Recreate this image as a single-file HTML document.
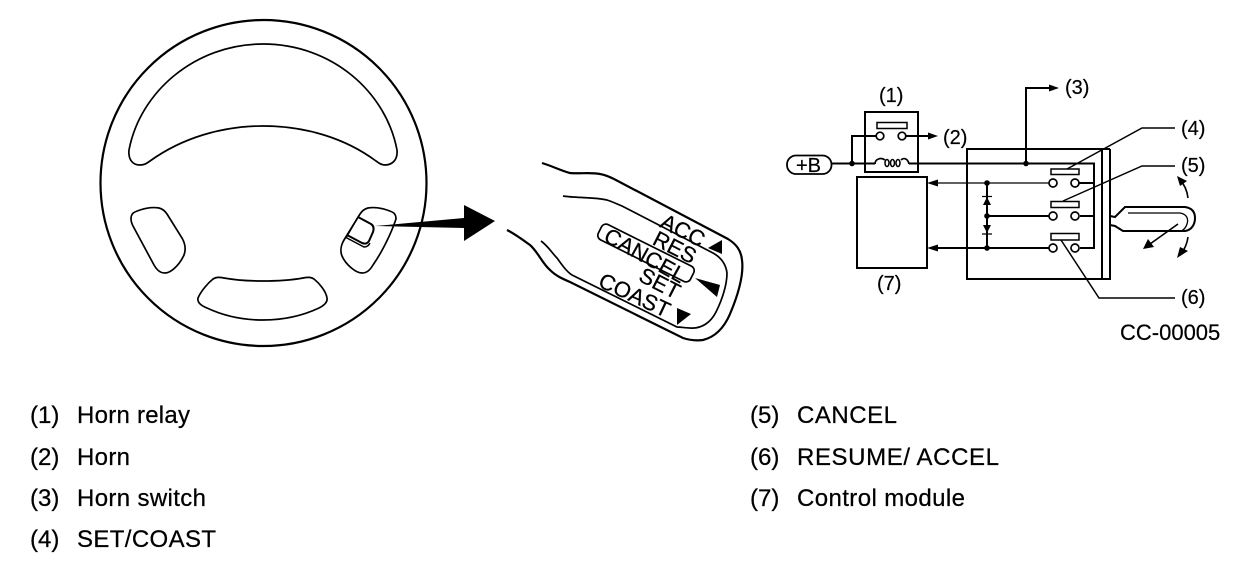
<!DOCTYPE html>
<html>
<head>
<meta charset="utf-8">
<style>
html,body{margin:0;padding:0;background:#fff;width:1248px;height:572px;overflow:hidden}
svg{display:block}
text{font-family:"Liberation Sans",sans-serif;fill:#000}
.l{font-size:24px;stroke:#000;stroke-width:.25}
.d{font-size:20px;stroke:#000;stroke-width:.2}
.s{font-size:22px;stroke:#000;stroke-width:.25}
</style>
</head>
<body>
<svg width="1248" height="572" viewBox="0 0 1248 572" xmlns="http://www.w3.org/2000/svg">
<g fill="none" stroke="#000" stroke-width="1.7">
  <!-- wheel -->
  <circle cx="263.5" cy="183" r="163" stroke-width="2.2"/>
  <path d="M129 150C140 92 195 44 263 44C332 44 386 92 397 150C398 160 392 165 385 165C381 165 379 163 376 161C345 138 305 126 263 126C222 126 182 138 150 161C147 163 145 165 140 165C133 165 128 160 129 150Z"/>
  <path d="M131 219C131 213 134 212 140 210C146 208 153 207 159 208C163 209 165 211 167 214L182 238C186 245 186 252 183 257C179 265 171 273 165 273C160 273 157 270 154 265L133 226C132 224 131 222 131 219Z"/>
  <path d="M396 219C396 213 393 212 387 210C381 208 374 207 368 208C364 209 362 211 360 214L344 240C341 245 340 251 342 256C346 265 356 273 362 273C367 273 370 270 373 265C382 252 391 234 396 219Z"/>
  <path d="M198 298C201 291 208 283 213 279C216 277 219 277 224 278C235 280 249 281 263 281C277 281 292 280 303 278C308 277 311 277 314 279C319 283 326 291 327 298C328 303 323 306 319 308C302 316 283 320 263 320C244 320 224 316 207 308C202 306 197 303 198 298Z"/>
  <path d="M358 217L371 224C374 226 374 229 373 232L369 241C367 244 365 244 362 243L347 235" stroke-width="2"/>
  <path d="M345 237L364 247C367 247 369 245 370 243" stroke-width="1.5"/>
  <line x1="358" y1="217" x2="346" y2="238" stroke-width="1.4"/>
  <!-- stalk -->
  <path d="M542 163C552 166 562 171 570 173C580 174 590 172 600 174C606 175 610 177 614 179L728 239C736 244 741 250 742 260C744 275 738 295 730 314C724 328 715 337 703 340C695 341 689 340 683 338L570 282C563 279 556 276 550 270C542 263 538 252 530 245C523 240 515 234 507 230" stroke-width="2.2"/>
  <path d="M563 196C575 198 595 197 607 200C613 202 617 204 622 206L713 253C722 258 726 265 727 273C727 285 722 300 716 312C711 322 702 329 690 328C685 328 681 327 677 327L572 275C567 272 562 265 557 258C552 253 548 246 541 241" stroke-width="1.7"/>
  <!-- CANCEL capsule -->
  <rect x="594.500" y="244.500" width="103" height="17" rx="5" transform="rotate(26.500 646 253)" stroke-width="1.7"/>
  <!-- schematic -->
  <rect x="865" y="112" width="53" height="60" stroke-width="2"/>
  <rect x="877" y="122.500" width="30" height="6" stroke-width="1.5"/>
  <circle cx="880" cy="136" r="3.800"/>
  <circle cx="902" cy="136" r="3.800"/>
  <path d="M852 163.500V136H876M906 136H930" stroke-width="2"/>
  <rect x="787" y="155.500" width="44.500" height="18.500" rx="9" stroke-width="1.8"/>
  <path d="M832 163.500H875M909 163.500H1094V248H1080M1080 216H1094M1079 183H1094" stroke-width="2"/>
  <path d="M875 164C875 159 881 157 885 160M901 160C904 157 908 159 909 164" stroke-width="1.7"/>
  <ellipse cx="887" cy="163" rx="2" ry="3.500" stroke-width="1.500"/>
  <ellipse cx="892.500" cy="163" rx="2" ry="3.500" stroke-width="1.500"/>
  <ellipse cx="898" cy="163" rx="2" ry="3.500" stroke-width="1.500"/>
  <rect x="857" y="177" width="70" height="91" stroke-width="2"/>
  <path d="M1110 149H967V279H1110V149M1102 149V279" stroke-width="2"/>
  <path d="M1026 164V88H1050" stroke-width="2"/>
  <rect x="1051" y="169" width="28" height="5.500" stroke-width="1.500"/>
  <rect x="1051" y="201.500" width="28" height="6" stroke-width="1.500"/>
  <rect x="1051" y="233.500" width="28" height="6.500" stroke-width="1.500"/>
  <circle cx="1053" cy="183" r="4"/><circle cx="1075" cy="183" r="4"/>
  <circle cx="1053" cy="216" r="4"/><circle cx="1075" cy="216" r="4"/>
  <circle cx="1053" cy="248" r="4"/><circle cx="1075" cy="248" r="4"/>
  <path d="M935 183H1049" stroke-width="1.200"/>
  <path d="M987 216H1049M935 248H1049" stroke-width="2"/>
  <path d="M987 183V248" stroke-width="2"/>
  <path d="M982 196.500H992M982 234H992" stroke-width="1.200"/>
  <path d="M1175 128H1142L1067 169M1175 166H1142L1063 201M1175 298H1099L1061 240" stroke-width="1.500"/>
  <!-- handle -->
  <path d="M1110 216L1115 217L1125 207H1185C1192 208 1195 212 1195 218C1195 224 1192 230 1185 231H1123L1115 226L1110 225" stroke-width="2"/>
  <path d="M1128 213H1180C1186 214 1189 218 1187 224C1186 227 1184 230 1181 231" stroke-width="1.300"/>
  <path d="M1178 224L1150 244" stroke-width="1.600"/>
  <path d="M1188 198C1187 190 1184 184 1180 180M1188 237C1187 245 1184 250 1181 254" stroke-width="1.600"/>
</g>
<g fill="#000" stroke="none">
  <!-- pointer arrow -->
  <polygon points="375,226 464,218 464,205 495,221 464,241 464,228"/>
  <!-- stalk triangles -->
  <polygon points="722,240 722,254 708,248"/>
  <polygon points="695,278 720,285 717,297"/>
  <polygon points="677,308 691,314 677,325"/>
  <!-- schematic dots and arrowheads -->
  <circle cx="852" cy="163.500" r="2.800"/>
  <circle cx="1026" cy="163.500" r="2.800"/>
  <circle cx="987" cy="183" r="2.800"/>
  <circle cx="987" cy="216" r="2.800"/>
  <circle cx="987" cy="248" r="2.800"/>
  <polygon points="938,136 928,132.500 928,139.500"/>
  <polygon points="1059,88 1049,84.500 1049,91.500"/>
  <polygon points="927,183 938,179.500 938,186.500"/>
  <polygon points="927,248 938,244.500 938,251.500"/>
  <polygon points="987,197 983,205 991,205"/>
  <polygon points="987,233 983,225 991,225"/>
  <polygon points="1143,249 1148,239 1154,247"/>
  <polygon points="1177,176 1187,181 1180,186"/>
  <polygon points="1177,258 1180,247 1188,251"/>
</g>
<!-- stalk labels -->
<text class="s" text-anchor="middle" transform="translate(679.400,237) rotate(27)">ACC</text>
<text class="s" text-anchor="middle" transform="translate(671.400,254) rotate(27)">RES</text>
<text class="s" text-anchor="middle" transform="translate(641.400,262) rotate(29)">CANCEL</text>
<text class="s" text-anchor="middle" transform="translate(656.400,290) rotate(27)">SET</text>
<text class="s" text-anchor="middle" transform="translate(631.400,302) rotate(25)">COAST</text>
<!-- schematic labels -->
<text class="d" x="879" y="102">(1)</text>
<text class="d" x="943" y="144">(2)</text>
<text class="d" x="1065" y="94">(3)</text>
<text class="d" x="1181" y="135">(4)</text>
<text class="d" x="1181" y="172">(5)</text>
<text class="d" x="1181" y="304">(6)</text>
<text class="d" x="877" y="290">(7)</text>
<text class="d" x="796" y="172">+B</text>
<text class="d" x="1120" y="340" style="font-size:22px">CC-00005</text>
<!-- legend -->
<text class="l" x="30" y="423">(1)</text><text class="l" x="77" y="423" textLength="113">Horn relay</text>
<text class="l" x="30" y="465">(2)</text><text class="l" x="77" y="465" textLength="53">Horn</text>
<text class="l" x="30" y="506">(3)</text><text class="l" x="77" y="506" textLength="129">Horn switch</text>
<text class="l" x="30" y="547">(4)</text><text class="l" x="77" y="547" textLength="139">SET/COAST</text>
<text class="l" x="750" y="423">(5)</text><text class="l" x="797" y="423" textLength="100">CANCEL</text>
<text class="l" x="750" y="465">(6)</text><text class="l" x="797" y="465" textLength="202">RESUME/ ACCEL</text>
<text class="l" x="750" y="506">(7)</text><text class="l" x="797" y="506" textLength="168">Control module</text>
</svg>
</body>
</html>
